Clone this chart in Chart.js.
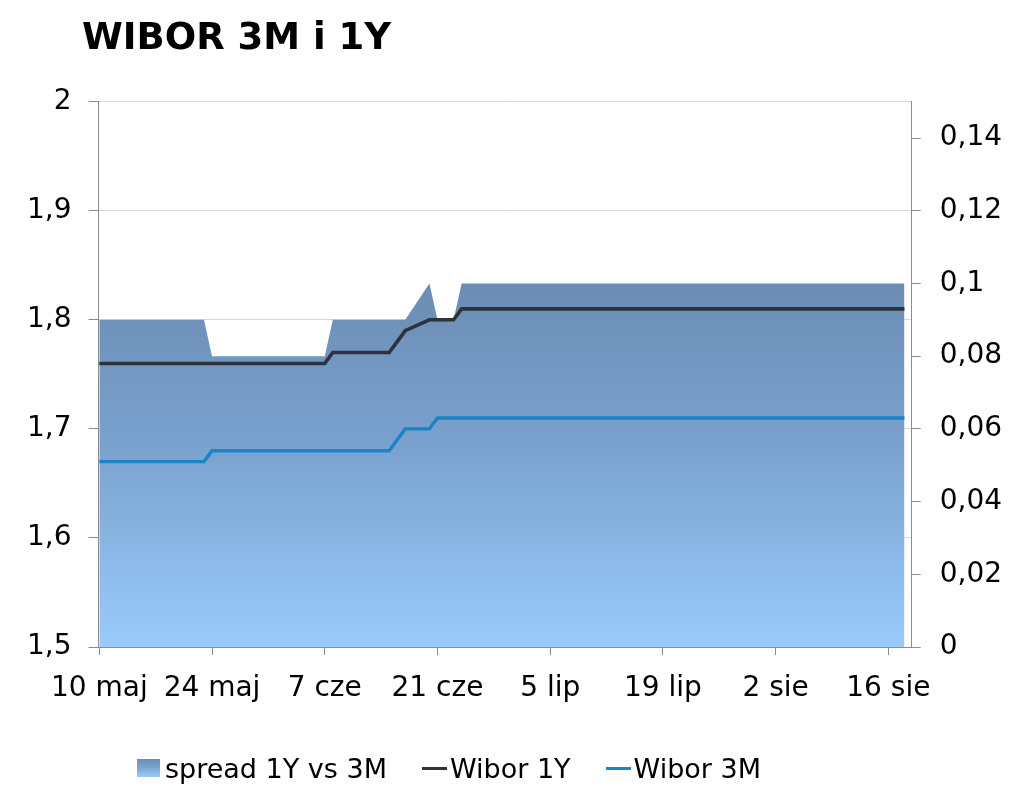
<!DOCTYPE html>
<html><head><meta charset="utf-8">
<script src="https://cdn.jsdelivr.net/npm/chart.js@4.4.0/dist/chart.umd.min.js"></script>
<style>
html,body{margin:0;padding:0;background:#fff;}
#wrap{position:relative;width:1024px;height:791px;overflow:hidden;font-family:"DejaVu Sans",Verdana,sans-serif;}
#title{position:absolute;left:82px;top:18px;font-weight:bold;font-size:37px;line-height:37px;color:#000;white-space:nowrap;}
#legend{position:absolute;left:137px;top:753px;height:30px;display:flex;align-items:center;font-size:27px;color:#000;white-space:nowrap;}
.item{display:flex;align-items:center;margin-right:35px;}
.box{width:23px;height:18px;margin-right:5px;}
.line{width:25px;height:3px;margin-right:3px;}
canvas{position:absolute;left:0;top:0;}
</style></head>
<body><div id="wrap"><canvas id="c" width="1024" height="791"></canvas><div id="title"></div><div id="legend"></div></div>
<script>
const titleText = 'WIBOR 3M i 1Y';
const seriesNames = ['spread 1Y vs 3M', 'Wibor 1Y', 'Wibor 3M'];

// fixing dates (business days)
const dates = [
 '2016-05-10','2016-05-11','2016-05-12','2016-05-13','2016-05-16','2016-05-17','2016-05-18','2016-05-19','2016-05-20','2016-05-23',
 '2016-05-24','2016-05-25','2016-05-27','2016-05-30','2016-05-31',
 '2016-06-01','2016-06-02','2016-06-03','2016-06-06','2016-06-07',
 '2016-06-08','2016-06-09','2016-06-10','2016-06-13','2016-06-14','2016-06-15',
 '2016-06-16','2016-06-17','2016-06-20','2016-06-21','2016-06-22','2016-06-23',
 '2016-06-24','2016-06-27','2016-06-28','2016-06-29','2016-06-30',
 '2016-07-01','2016-07-04','2016-07-05','2016-07-06','2016-07-07','2016-07-08','2016-07-11','2016-07-12','2016-07-13','2016-07-14','2016-07-15',
 '2016-07-18','2016-07-19','2016-07-20','2016-07-21','2016-07-22','2016-07-25','2016-07-26','2016-07-27','2016-07-28','2016-07-29',
 '2016-08-01','2016-08-02','2016-08-03','2016-08-04','2016-08-05','2016-08-08','2016-08-09','2016-08-10','2016-08-11','2016-08-12',
 '2016-08-16','2016-08-17','2016-08-18'
];

const wibor1Y = [
 1.76,1.76,1.76,1.76,1.76,1.76,1.76,1.76,1.76,1.76,
 1.76,1.76,1.76,1.76,1.76,
 1.76,1.76,1.76,1.76,1.76,
 1.77,1.77,1.77,1.77,1.77,1.77,
 1.78,1.79,1.80,1.80,1.80,1.80,
 1.81,1.81,1.81,1.81,1.81,
 1.81,1.81,1.81,1.81,1.81,1.81,1.81,1.81,1.81,1.81,1.81,
 1.81,1.81,1.81,1.81,1.81,1.81,1.81,1.81,1.81,1.81,
 1.81,1.81,1.81,1.81,1.81,1.81,1.81,1.81,1.81,1.81,
 1.81,1.81,1.81
];

const wibor3M = [
 1.67,1.67,1.67,1.67,1.67,1.67,1.67,1.67,1.67,1.67,
 1.68,1.68,1.68,1.68,1.68,
 1.68,1.68,1.68,1.68,1.68,
 1.68,1.68,1.68,1.68,1.68,1.68,
 1.69,1.70,1.70,1.71,1.71,1.71,
 1.71,1.71,1.71,1.71,1.71,
 1.71,1.71,1.71,1.71,1.71,1.71,1.71,1.71,1.71,1.71,1.71,
 1.71,1.71,1.71,1.71,1.71,1.71,1.71,1.71,1.71,1.71,
 1.71,1.71,1.71,1.71,1.71,1.71,1.71,1.71,1.71,1.71,
 1.71,1.71,1.71
];

const spread = [
 0.09,0.09,0.09,0.09,0.09,0.09,0.09,0.09,0.09,0.09,
 0.08,0.08,0.08,0.08,0.08,
 0.08,0.08,0.08,0.08,0.08,
 0.09,0.09,0.09,0.09,0.09,0.09,
 0.09,0.09,0.10,0.09,0.09,0.09,
 0.10,0.10,0.10,0.10,0.10,
 0.10,0.10,0.10,0.10,0.10,0.10,0.10,0.10,0.10,0.10,0.10,
 0.10,0.10,0.10,0.10,0.10,0.10,0.10,0.10,0.10,0.10,
 0.10,0.10,0.10,0.10,0.10,0.10,0.10,0.10,0.10,0.10,
 0.10,0.10,0.10
];

const xTickDates = ['2016-05-10','2016-05-24','2016-06-07','2016-06-21','2016-07-05','2016-07-19','2016-08-02','2016-08-16'];
const xTickLabels = ['10 maj','24 maj','7 cze','21 cze','5 lip','19 lip','2 sie','16 sie'];
const leftTicks = [1.5, 1.6, 1.7, 1.8, 1.9, 2];
const rightTicks = [0, 0.02, 0.04, 0.06, 0.08, 0.1, 0.12, 0.14];

const DAY = 86400000;
const t0 = Date.parse(dates[0]);
const dayOf = d => Math.round((Date.parse(d) - t0) / DAY);
const xTickValues = xTickDates.map(dayOf);
const pts = arr => dates.map((d, i) => ({x: dayOf(d), y: arr[i]}));
const fmt = v => String(v).replace('.', ',');

const FONT = {family: '"DejaVu Sans", Verdana, sans-serif', size: 28};
const AXIS_GRAY = '#8c8c8c';

function spreadFill(context) {
  const chart = context.chart;
  const a = chart.chartArea;
  if (!a) return '#7fa6d3';
  const top = chart.scales.y1.getPixelForValue(Math.max(...spread));
  const g = chart.ctx.createLinearGradient(0, top, 0, a.bottom);
  g.addColorStop(0, '#6b8db3');
  g.addColorStop(0.45, '#7aa2cf');
  g.addColorStop(1, '#9acbfb');
  return g;
}

document.getElementById('title').textContent = titleText;

const chart = new Chart(document.getElementById('c'), {
  type: 'line',
  data: {
    datasets: [
      {label: seriesNames[0], data: pts(spread), yAxisID: 'y1', fill: 'origin',
       backgroundColor: spreadFill, borderWidth: 0, borderColor: 'rgba(0,0,0,0)', pointRadius: 0, order: 3, tension: 0},
      {label: seriesNames[1], data: pts(wibor1Y), yAxisID: 'y', fill: false,
       borderColor: '#2d333b', borderWidth: 3.6, pointRadius: 0, order: 2, tension: 0},
      {label: seriesNames[2], data: pts(wibor3M), yAxisID: 'y', fill: false,
       borderColor: '#1a84c6', borderWidth: 3.4, pointRadius: 0, order: 1, tension: 0}
    ]
  },
  options: {
    responsive: false,
    animation: false,
    devicePixelRatio: 1,
    layout: {padding: {top: 101.7, left: 0, right: 0, bottom: 0}},
    plugins: {legend: {display: false}, title: {display: false}, tooltip: {enabled: false}},
    scales: {
      x: {
        type: 'linear', position: 'bottom', min: -0.1, max: 100.9,
        afterBuildTicks: s => { s.ticks = xTickValues.map(v => ({value: v})); },
        afterFit: s => { s.height = 144; },
        ticks: {autoSkip: false, maxRotation: 0, minRotation: 0, padding: 17, color: '#000', font: FONT,
                callback: v => xTickLabels[xTickValues.indexOf(v)]},
        grid: {drawOnChartArea: false, drawTicks: true, tickLength: 8, tickColor: AXIS_GRAY, color: AXIS_GRAY},
        border: {display: true, color: AXIS_GRAY, width: 1}
      },
      y: {
        type: 'linear', position: 'left', min: 1.5, max: 2,
        afterBuildTicks: s => { s.ticks = leftTicks.map(v => ({value: v})); },
        afterFit: s => { s.width = 98.5; },
        ticks: {padding: 17, color: '#000', font: FONT, callback: v => fmt(v)},
        grid: {drawOnChartArea: true, color: '#d9d9d9', tickColor: AXIS_GRAY, tickLength: 10, lineWidth: 1},
        border: {display: true, color: AXIS_GRAY, width: 1}
      },
      y1: {
        type: 'linear', position: 'right', min: 0, max: 0.15,
        afterBuildTicks: s => { s.ticks = rightTicks.map(v => ({value: v})); },
        afterFit: s => { s.width = 112.3; },
        ticks: {padding: 19, color: '#000', font: FONT, callback: v => fmt(v)},
        grid: {drawOnChartArea: false, tickColor: AXIS_GRAY, tickLength: 9},
        border: {display: true, color: AXIS_GRAY, width: 1}
      }
    }
  }
});

// HTML legend built from the chart's datasets
const legend = document.getElementById('legend');
chart.data.datasets.forEach(ds => {
  const item = document.createElement('div');
  item.className = 'item';
  const sw = document.createElement('div');
  if (ds.fill) {
    sw.className = 'box';
    sw.style.background = 'linear-gradient(to bottom, #6b8db3 0%, #7aa2cf 45%, #9acbfb 100%)';
  } else {
    sw.className = 'line';
    sw.style.background = ds.borderColor;
  }
  const tx = document.createElement('span');
  tx.textContent = ds.label;
  item.appendChild(sw);
  item.appendChild(tx);
  legend.appendChild(item);
});
</script>
</body></html>
